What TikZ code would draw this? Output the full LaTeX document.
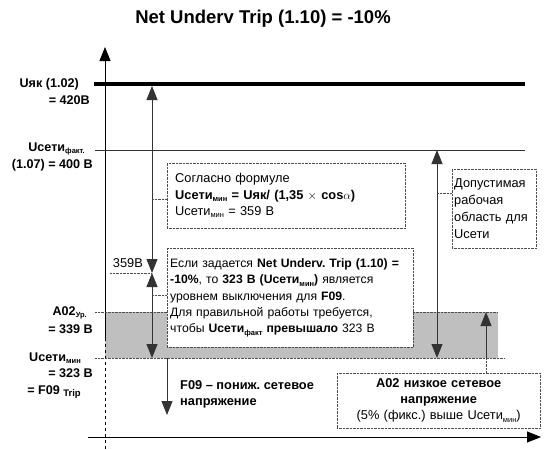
\documentclass[tikz,border=0pt]{standalone}
\usepackage{fontspec}
\setmainfont{Liberation Sans}
\usetikzlibrary{arrows.meta}
\newcommand{\lsub}[1]{\raisebox{-0.35ex}{\fontsize{7.5}{8}\selectfont #1}}
\begin{document}
\frenchspacing
\begin{tikzpicture}[x=1pt,y=-1pt,
  txt/.style={font=\fontsize{12.8}{16.3}\selectfont, inner sep=0pt},
  lbl/.style={font=\bfseries\fontsize{12.6}{14}\selectfont, inner sep=0pt, anchor=mid east},
  dbox/.style={draw=black!70, densely dotted, fill=white, inner sep=4pt, font=\fontsize{12.8}{16.3}\selectfont},
  dline/.style={draw=black!70, densely dotted},
  arr/.style={-{Triangle[width=11pt,length=14pt]}, line width=0.8pt, draw=black!80},
  darr/.style={{Triangle[width=11pt,length=14pt]}-{Triangle[width=11pt,length=14pt]}, line width=0.8pt, draw=black!80}]
\useasboundingbox (0,0) rectangle (544,450);

% title
\node[font=\bfseries\fontsize{18.5}{20}\selectfont, inner sep=0pt] (title) at (263,19) {Net Underv Trip (1.10) = -10\%};

% grey band
\fill[black!25] (105,312) rectangle (498,358);

% axes
\coordinate (ax0) at (105,338);
\coordinate (axT) at (105,47);
\coordinate (axB) at (105,450);
\coordinate (hx0) at (88,437);
\coordinate (hx1) at (541,437);
\draw[arr, draw=black] (ax0) -- (axT);
\draw[dashed, line width=0.8pt] (ax0) -- (axB);
\draw[arr, draw=black] (hx0) -- (hx1);

% level lines
\coordinate (uyL) at (94,84); \coordinate (uyR) at (525,84);
\draw[line width=3.5pt] (uyL) -- (uyR);
\coordinate (ufL) at (95,150); \coordinate (ufR) at (525,150);
\draw[line width=0.8pt, black!80] (ufL) -- (ufR);
\coordinate (a02L) at (95,312); \coordinate (a02R) at (498,312);
\draw[dline] (a02L) -- (a02R);
\coordinate (umL) at (95,358); \coordinate (umR) at (505,358);
\draw[dline] (umL) -- (umR);

% arrows
\coordinate (p1) at (152,86);
\coordinate (p2) at (152,273);
\coordinate (p3) at (152,358);
\draw[darr] (p2) -- (p1);
\draw[darr] (p2) -- (p3);

\coordinate (f1) at (167,358);
\coordinate (f2) at (167,415);
\draw[arr] (f1) -- (f2);

\coordinate (r1) at (437,150);
\coordinate (r2) at (437,358);
\draw[darr] (r1) -- (r2);

\coordinate (s1) at (486,358);
\coordinate (s2) at (486,312);
\draw[arr] (s1) -- (s2);

% boxes
\node[dbox, anchor=north west, minimum width=235pt, minimum height=65pt, text width=222pt, inner xsep=8pt, align=left] (box1) at (167,163)
 {Согласно формуле\\
  \textbf{Uсети\lsub{мин} = Uяк/ (1,35 $\times$ cos$\alpha$)}\\
  Uсети\lsub{мин} = 359 В};

\node[dbox, anchor=north west, minimum width=246pt, minimum height=99pt, text width=240pt, inner xsep=3pt, align=left, font=\fontsize{12.2}{16.3}\selectfont] (box2) at (167,248)
 {Если задается \textbf{Net Underv. Trip (1.10) =}\\
  \textbf{-10\%}, то \textbf{323 В (Uсети\lsub{мин})} является\\
  уровнем выключения для \textbf{F09}.\\
  Для правильной работы требуется,\\
  чтобы \textbf{Uсети\lsub{факт} превышало} 323 В};

\node[dbox, anchor=north west, minimum width=83pt, minimum height=79pt, text width=80pt, inner sep=2pt, align=left, font=\fontsize{12.8}{17}\selectfont] (box3) at (452,169)
 {Допустимая\\рабочая\\область для\\Uсети};

\node[dbox, anchor=north west, minimum width=203pt, minimum height=55pt, text width=197pt, inner xsep=3pt, align=center, font=\fontsize{12.8}{16}\selectfont] (box4) at (337,373)
 {\textbf{A02 низкое сетевое}\\\textbf{напряжение}\\(5\% (фикс.) выше Uсети\lsub{мин})};

% dotted connectors
\coordinate (c1) at (152,199);
\draw[dline] (c1) -- (c1 -| box1.west);
\coordinate (c2) at (152,295);
\draw[dline] (c2) -- (c2 -| box2.west);
\coordinate (c3) at (437,193);
\draw[dline] (c3) -- (c3 -| box3.west);
\draw[dline] (s1) -- (s1 |- box4.north);
\coordinate (c4) at (110,273);
\draw[dline] (c4) -- (p2);

% labels
\node[txt, anchor=mid east] (l359) at (143,265) {359В};
\node[txt, anchor=north west, align=left, font=\bfseries\fontsize{12.8}{16}\selectfont] (f09) at (180,380) {F09 – пониж. сетевое\\напряжение};

\node[lbl] (l1) at (79,85) {Uяк (1.02)};
\node[lbl] (l2) at (90,102) {= 420В};
\node[lbl] (l3) at (85,149) {Uсети\lsub{факт.}};
\node[lbl] (l4) at (93,166) {(1.07) = 400 В};
\node[lbl] (l5) at (87,313) {A02\lsub{Ур.}};
\node[lbl] (l6) at (93,331) {= 339 В};
\node[lbl] (l7) at (81,359) {Uсети\lsub{мин}};
\node[lbl] (l8) at (93,375) {= 323 В};
\node[lbl] (l9) at (81,392) {= F09 \lsub{\fontsize{9.5}{10}\selectfont Trip}};
\end{tikzpicture}
\end{document}
